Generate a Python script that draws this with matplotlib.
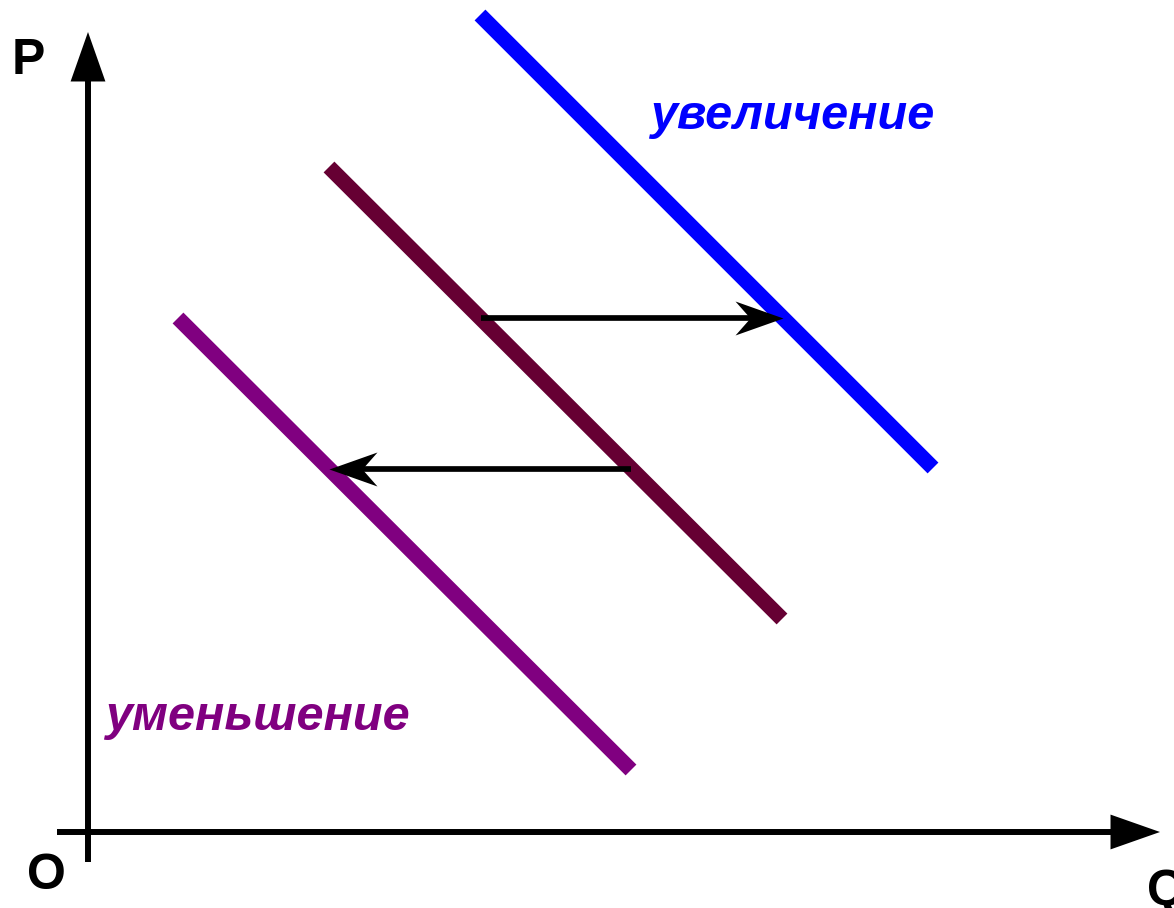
import matplotlib
matplotlib.use("Agg")
import matplotlib.pyplot as plt
from matplotlib.patches import FancyArrowPatch
from matplotlib.path import Path
import numpy as np

# ---- data (Q, P coordinates; origin at the axes intersection) ----
curve_names = ["увеличение", "исходная", "уменьшение"]
curve_q = [[392, 845], [241, 694], [90, 543]]
curve_p = [[817, 364], [665, 213], [514, 62]]
curve_colors = ["#0000ff", "#660033", "#800080"]

shift_right_q = [393, 695]
shift_right_p = [514, 514]
shift_left_q = [543, 241]
shift_left_p = [363, 363]

axis_labels = ["P", "Q", "O"]
label_increase = "увеличение"
label_decrease = "уменьшение"

fig = plt.figure(figsize=(11.74, 9.08), dpi=100)
ax = fig.add_axes([0, 0, 1, 1])
ax.set_xlim(-88, 1086)
ax.set_ylim(-76, 832)
ax.axis("off")

# axes with arrowheads
ax_lw = 4.3
ax.add_patch(FancyArrowPatch((0, -30), (0, 800),
                             arrowstyle="-|>,head_length=27,head_width=9.5",
                             mutation_scale=1, lw=ax_lw, color="black",
                             joinstyle="miter", capstyle="butt", shrinkA=0, shrinkB=0))
ax.add_patch(FancyArrowPatch((-31, 0), (1072, 0),
                             arrowstyle="-|>,head_length=27,head_width=9.5",
                             mutation_scale=1, lw=ax_lw, color="black",
                             joinstyle="miter", capstyle="butt", shrinkA=0, shrinkB=0))

# curves
for q, p, c in zip(curve_q, curve_p, curve_colors):
    ax.plot(q, p, color=c, lw=11, solid_capstyle="butt")

# stealth arrowheads as custom markers
def stealth(direction):
    verts = np.array([(0, 0), (-48, 17), (-33, 0), (-48, -17), (0, 0)], float)
    verts[:, 0] *= direction
    codes = [Path.MOVETO, Path.LINETO, Path.LINETO, Path.LINETO, Path.CLOSEPOLY]
    return Path(verts, codes)

ms = 69.1
for qs, ps, d in [(shift_right_q, shift_right_p, 1), (shift_left_q, shift_left_p, -1)]:
    ax.plot([qs[0], qs[1] - d * 30], ps, color="black", lw=4.1, solid_capstyle="butt")
    ax.plot([qs[1]], [ps[1]], marker=stealth(d), markersize=ms, color="black",
            markeredgewidth=0, linestyle="none")

# texts
ax.text(-76, 758, axis_labels[0], fontsize=36, fontweight="bold",
        family="Liberation Sans", ha="left", va="baseline")
ax.text(1059, -73, axis_labels[1], fontsize=36, fontweight="bold",
        family="Liberation Sans", ha="left", va="baseline")
ax.text(-61, -57, axis_labels[2], fontsize=36, fontweight="bold",
        family="Liberation Sans", ha="left", va="baseline")

ax.text(562, 703, label_increase, fontsize=35, fontweight="bold", fontstyle="italic",
        family="Liberation Sans", color=curve_colors[0], ha="left", va="baseline")
ax.text(17, 102, label_decrease, fontsize=35, fontweight="bold", fontstyle="italic",
        family="Liberation Sans", color=curve_colors[2], ha="left", va="baseline")

fig.savefig("out.png", dpi=100)
